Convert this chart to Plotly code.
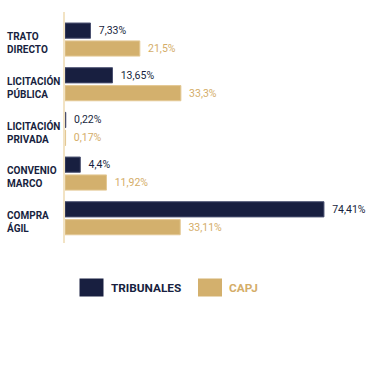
import plotly.graph_objects as go

categories = ["TRATO<br>DIRECTO", "LICITACIÓN<br>PÚBLICA", "LICITACIÓN<br>PRIVADA",
              "CONVENIO<br>MARCO", "COMPRA<br>ÁGIL"]
series_names = ["TRIBUNALES", "CAPJ"]
tribunales = [7.33, 13.65, 0.22, 4.4, 74.41]
capj = [21.5, 33.3, 0.17, 11.92, 33.11]

NAVY = "#181f40"
GOLD = "#d3b06d"
GOLD_TXT = "#d4ad68"
FONT = "Roboto"

W, H = 370, 370
ML, MR, MT, MB = 65, 15, 12, 127
PW = W - ML - MR
PH = H - MT - MB


def fmt(v):
    return (f"{v:g}").replace(".", ",") + "%"


fig = go.Figure()
for name, vals, col, lcol, tcol in [
    (series_names[0], tribunales, NAVY, "#4a5070", NAVY),
    (series_names[1], capj, GOLD, "#e3c894", GOLD_TXT),
]:
    fig.add_trace(go.Bar(
        name=name, y=categories, x=vals, orientation="h",
        marker=dict(color=col, line=dict(color=lcol, width=1)),
        text=[fmt(v) for v in vals],
        texttemplate="\u00a0\u00a0%{text}",
        textposition="outside",
        outsidetextfont=dict(family=FONT, size=10.5, color=tcol),
        cliponaxis=False,
        showlegend=False,
        hoverinfo="skip",
    ))

# category labels, left-aligned
for c in categories:
    fig.add_annotation(
        x=-(ML - 5) / PW, xref="paper", y=c, yref="y",
        text=c, showarrow=False, xanchor="left", align="left",
        yshift=-3.5,
        font=dict(family=FONT, size=10, color=NAVY, weight="bold"),
    )


def px_x(p):
    return (p - ML) / PW


def px_y(p):
    return (MT + PH - p) / PH


# legend (custom, larger swatches)
legend_items = [(series_names[0], NAVY, NAVY, 79.5), (series_names[1], GOLD, GOLD_TXT, 198)]
for name, col, tcol, x0 in legend_items:
    fig.add_shape(type="rect", xref="paper", yref="paper",
                  x0=px_x(x0), x1=px_x(x0 + 24), y0=px_y(296.5), y1=px_y(278.5),
                  fillcolor=col, line=dict(color=col, width=0))
    fig.add_annotation(x=px_x(x0 + 29), xref="paper", y=px_y(288), yref="paper",
                       text=name, showarrow=False, xanchor="left", yanchor="middle",
                       font=dict(family=FONT, size=11.8, color=tcol, weight="bold"))

fig.update_layout(
    width=W, height=H,
    margin=dict(l=ML, r=MR, t=MT, b=MB, pad=0),
    paper_bgcolor="white", plot_bgcolor="white",
    barmode="group", bargap=0.2, bargroupgap=0.15,
    xaxis=dict(range=[0, PW / 3.48], visible=False, fixedrange=True),
    yaxis=dict(range=[4.554, -0.617], showticklabels=False, showgrid=False,
               zeroline=False, showline=True, linecolor="#f2e3c4", linewidth=2,
               ticks="", fixedrange=True),
    font=dict(family=FONT),
)

fig.write_html("out.html", config={"displayModeBar": False},
               post_script="document.body.style.margin='0';")
